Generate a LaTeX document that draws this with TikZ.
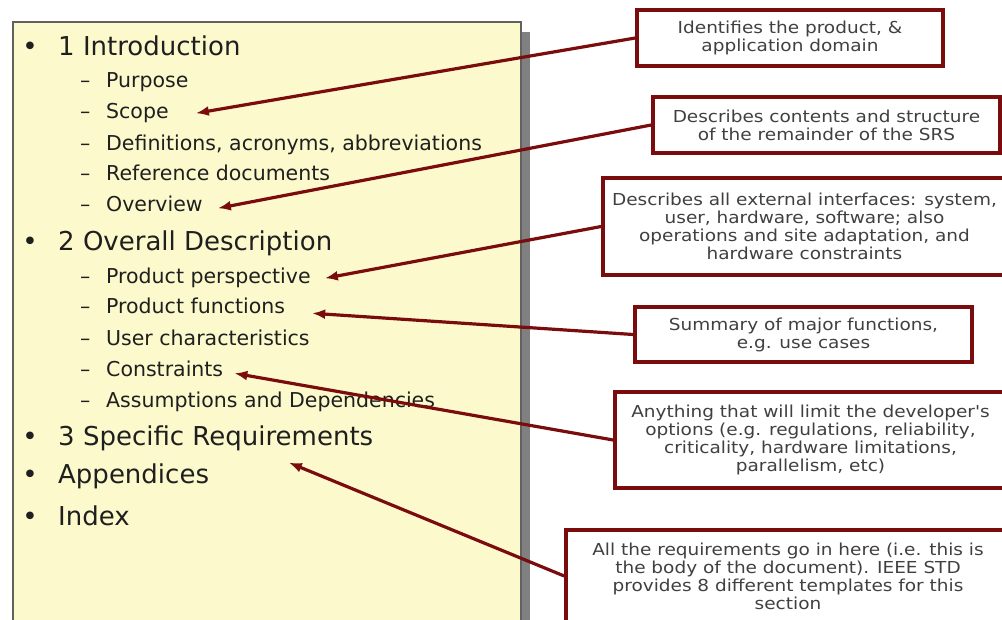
\documentclass[tikz,border=0pt]{standalone}
\usepackage{fontspec}
\setmainfont{DejaVu Sans}
\newfontfamily\notefont[FakeStretch=1.12]{DejaVu Sans}
\usetikzlibrary{arrows.meta}
\definecolor{srsred}{RGB}{122,12,14}
\definecolor{srspanel}{RGB}{252,250,204}
\definecolor{srsedge}{gray}{0.38}
\definecolor{srsshadow}{gray}{0.50}
\definecolor{srstext}{gray}{0.12}
\definecolor{srsnote}{gray}{0.25}
\newcommand{\topicmark}{\makebox[35.7pt][l]{\textbullet}}
\newcommand{\submark}{\makebox[26pt][l]{\textendash}}

\begin{document}
\begin{tikzpicture}[x=1pt, y=-1pt,
    topic/.style={anchor=base west, inner sep=0pt, text=srstext,
        font=\fontsize{26}{30}\selectfont},
    subtopic/.style={anchor=base west, inner sep=0pt, text=srstext,
        font=\fontsize{20.5}{24}\selectfont},
    note/.style={rectangle, draw=srsred, line width=3.6pt, fill=white, align=center,
        text=srsnote, inner sep=0pt, font=\notefont\fontsize{16.5}{18}\selectfont},
    pointer/.style={-{Latex[length=13pt,width=10pt]}, draw=srsred, line width=3.2pt}
]
    \useasboundingbox (0,0) rectangle (1002,619);

    % outline page
    \fill[srsshadow] (521,32) rectangle (530,640);
    \draw[srsedge, line width=1.5pt, fill=srspanel] (13,22) rectangle (521,640);

    \node[topic] (intro) at (22.3,55) {\topicmark 1 Introduction};
    \node[subtopic] (purpose) at (80,87) {\submark Purpose};
    \node[subtopic] (scope) at (80,118) {\submark Scope};
    \node[subtopic] (defs) at (80,150) {\submark Definitions, acronyms, abbreviations};
    \node[subtopic] (refdocs) at (80,180) {\submark Reference documents};
    \node[subtopic] (overview) at (80,211) {\submark Overview};
    \node[topic] (overall) at (22.3,250) {\topicmark 2 Overall Description};
    \node[subtopic] (perspective) at (80,283) {\submark Product perspective};
    \node[subtopic] (functions) at (80,313) {\submark Product functions};
    \node[subtopic] (users) at (80,345) {\submark User characteristics};
    \node[subtopic] (constraints) at (80,376) {\submark Constraints};
    \node[subtopic] (assumptions) at (80,407) {\submark Assumptions and Dependencies};
    \node[topic] (specreq) at (22.3,445) {\topicmark 3 Specific Requirements};
    \node[topic] (appendices) at (22.3,483) {\topicmark Appendices};
    \node[topic] (index) at (22.3,525) {\topicmark Index};

    % notes
    \node[note, minimum width=306pt, minimum height=56pt] (scopenote) at (790,38)
        {Identifies the product, \&\\application domain};
    \node[note, minimum width=347pt, minimum height=56pt] (overviewnote) at (826.5,125)
        {Describes contents and structure\\of the remainder of the SRS};
    \node[note, minimum width=403pt, minimum height=97pt] (perspnote) at (804.5,226.5)
        {Describes all external interfaces: system,\\user, hardware, software; also\\operations and site adaptation, and\\hardware constraints};
    \node[note, minimum width=337pt, minimum height=55pt] (funcnote) at (803.5,334.5)
        {Summary of major functions,\\e.g. use cases};
    \node[note, minimum width=391pt, minimum height=96pt] (constrnote) at (810.5,440)
        {Anything that will limit the developer's\\options (e.g. regulations, reliability,\\criticality, hardware limitations,\\parallelism, etc)};
    \node[note, minimum width=444pt, minimum height=92pt] (specnote) at (788,576)
        {All the requirements go in here (i.e. this is\\the body of the document). IEEE STD\\provides 8 different templates for this\\section};

    \draw[pointer] (scopenote.west) -- ([xshift=27pt,yshift=2pt]scope.mid east);
    \draw[pointer] (overviewnote.west) -- ([xshift=15pt]overview.mid east);
    \draw[pointer] (perspnote.west) -- ([xshift=14pt,yshift=2pt]perspective.mid east);
    \draw[pointer] (funcnote.west) -- ([xshift=27pt,yshift=-3pt]functions.mid east);
    \draw[pointer] (constrnote.west) -- ([xshift=11pt]constraints.mid east);
    \draw[pointer] (specnote.west) -- ([xshift=91pt,yshift=-12pt]specreq.south);
\end{tikzpicture}
\end{document}
